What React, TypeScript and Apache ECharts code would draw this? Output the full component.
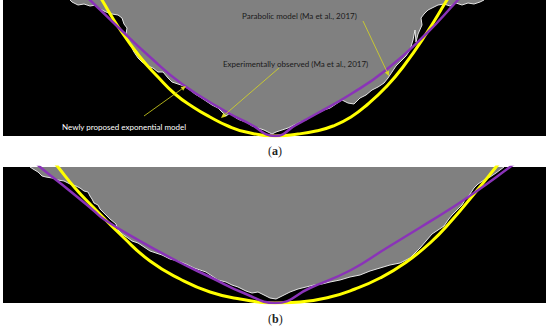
import React, { useEffect, useRef } from "react";
import * as echarts from "echarts";

// Panel (a): x in image pixels, y in pixels from panel top
const yellowA: [number, number][] = [[98,-7],[102,0],[119,28],[140,57],[158,77],[175,94],[193,107],[210,117],[228,126],[246,132],[275,136],[298,134],[316,131],[333,126],[351,117],[368,104],[386,87],[403,67],[426,34],[447,0],[451,-6]];
const purpleA: [number, number][] = [[86,-4],[90,0],[119,28],[150,57],[182,84],[225,111],[250,124],[275,136],[296,125],[316,114],[351,94],[386,70],[426,34],[458,0],[462,-4]];
const grayA: [number, number][] = [[70,0],[72,2],[78,5],[84,4],[90,6],[96,5],[100,9],[106,12],[112,14],[118,15],[122,18],[124,24],[127,28],[126,34],[128,40],[130,44],[134,52],[138,58],[142,62],[148,66],[153,68],[158,72],[163,72],[168,78],[172,82],[178,84],[184,86],[190,90],[195,94],[200,97],[206,101],[212,105],[218,108],[222,112],[226,116],[230,113],[236,118],[240,120],[246,122],[252,126],[258,128],[264,130],[268,132],[272,134],[276,132],[282,130],[288,128],[294,125],[300,122],[306,120],[312,116],[318,113],[324,110],[330,108],[336,104],[342,100],[348,103],[354,104],[360,98],[366,95],[372,90],[378,87],[384,83],[388,78],[392,72],[396,66],[402,60],[406,56],[410,50],[413,40],[415,30],[416,42],[418,34],[422,25],[421,18],[424,14],[428,10],[432,8],[438,5],[444,4],[450,6],[456,3],[462,5],[468,3],[474,4],[480,2],[484,0]];

// Panel (b)
const yellowB: [number, number][] = [[54,-5],[58,0],[75,21],[93,40],[123,70],[150,94],[180,112],[210,125],[240,132],[275,136],[300,135],[330,130],[355,122],[380,111],[405,96],[430,76],[453,52],[474,27],[496,0],[500,-5]];
const purpleB: [number, number][] = [[36,-4],[40,0],[70,24],[93,43],[105,53],[140,74],[175,93],[210,110],[246,127],[275,136],[310,121],[351,103],[385,82],[421,60],[450,42],[474,26],[510,0],[514,-3]];
const grayB: [number, number][] = [[30,0],[33,2],[38,5],[42,9],[46,10],[52,11],[58,13],[64,14],[70,17],[76,19],[80,21],[84,24],[88,25],[90,29],[92,32],[94,36],[98,38],[100,42],[104,46],[110,52],[116,57],[118,63],[122,67],[128,71],[132,74],[138,76],[144,80],[150,84],[156,86],[162,88],[170,92],[178,94],[186,97],[194,101],[200,103],[206,105],[212,109],[218,113],[226,115],[232,118],[238,120],[246,124],[252,126],[258,125],[264,128],[270,131],[276,132],[282,129],[290,125],[298,122],[306,120],[314,118],[322,117],[330,115],[340,113],[350,110],[360,108],[370,104],[380,101],[390,98],[400,96],[410,91],[420,81],[426,74],[432,67],[438,63],[444,59],[448,53],[452,48],[456,44],[462,38],[466,31],[470,27],[474,21],[478,17],[484,13],[490,10],[496,6],[500,3],[504,0]];

const panelLabels = ["a", "b"];
const annotationTexts = [
  "Parabolic model (Ma et al., 2017)",
  "Experimentally observed (Ma et al., 2017)",
  "Newly proposed exponential model",
];

const YELLOW = "#ffff00";
const PURPLE = "#8a33b8";
const GRAY = "#808080";

function arrow(x1: number, y1: number, x2: number, y2: number, color: string) {
  const ang = Math.atan2(y2 - y1, x2 - x1);
  const L = 5, W = 2.2;
  const bx = x2 - L * Math.cos(ang), by = y2 - L * Math.sin(ang);
  const px = -Math.sin(ang) * W, py = Math.cos(ang) * W;
  return [
    { type: "line", shape: { x1, y1, x2: bx, y2: by }, style: { stroke: color, lineWidth: 0.8 }, z: 100 },
    { type: "polygon", shape: { points: [[x2, y2], [bx + px, by + py], [bx - px, by - py]] }, style: { fill: color }, z: 100 },
  ];
}

export default function App() {
  const ref = useRef<HTMLDivElement>(null);
  useEffect(() => {
    if (!ref.current) return;
    const chart = echarts.init(ref.current, null, { renderer: "svg" });
    const grids = [
      { left: 3, top: 0, width: 543, height: 136 },
      { left: 3, top: 167, width: 543, height: 136 },
    ];
    const sets = [
      { y: yellowA, p: purpleA, g: grayA },
      { y: yellowB, p: purpleB, g: grayB },
    ];
    const series: any[] = [];
    sets.forEach((s, i) => {
      series.push({
        type: "line", xAxisIndex: i, yAxisIndex: i, data: s.g, showSymbol: false,
        lineStyle: { color: "#e6e6e6", width: 1 },
        areaStyle: { color: GRAY, opacity: 1, origin: 0 }, z: 2,
      });
      series.push({
        type: "line", xAxisIndex: i, yAxisIndex: i, data: s.y, showSymbol: false, smooth: 0.5,
        lineStyle: { color: YELLOW, width: 3 }, z: 3,
      });
      series.push({
        type: "line", xAxisIndex: i, yAxisIndex: i, data: s.p, showSymbol: false, smooth: 0.5,
        lineStyle: { color: PURPLE, width: 2.5 }, z: 4,
      });
    });
    const font = "Lato, 'Open Sans', sans-serif";
    const graphic: any[] = [
      ...arrow(363, 21, 389, 76, "#d8d820"),
      ...arrow(279, 68, 221, 118, "#d8d820"),
      ...arrow(144, 116, 186, 86, "#d8d820"),
      { type: "text", left: 242, top: 12, style: { text: annotationTexts[0], fill: "#1a1a1a", font: `8px ${font}` }, z: 101 },
      { type: "text", left: 223, top: 60, style: { text: annotationTexts[1], fill: "#1a1a1a", font: `8px ${font}` }, z: 101 },
      { type: "text", left: 62, top: 123, style: { text: annotationTexts[2], fill: "#ffffff", font: `8px ${font}` }, z: 101 },
      ...panelLabels.map((l, i) => ({
        type: "text", left: 268, top: i === 0 ? 145 : 313,
        style: {
          text: `(${"{b|" + l + "}"})`,
          rich: { b: { fontWeight: "bold", fontFamily: "'Liberation Serif', serif", fontSize: 12, fill: "#222" } },
          font: "12px 'Liberation Serif', serif", fill: "#222",
        },
      })),
    ];
    chart.setOption({
      animation: false,
      backgroundColor: "#ffffff",
      grid: grids.map((g) => ({ ...g, show: true, backgroundColor: "#000000", borderWidth: 0 })),
      xAxis: grids.map((_, i) => ({ type: "value", gridIndex: i, min: 3, max: 546, show: false })),
      yAxis: grids.map((_, i) => ({ type: "value", gridIndex: i, min: 0, max: 136, inverse: true, show: false })),
      series,
      graphic,
    });
    return () => chart.dispose();
  }, []);
  return (
    <div style={{ position: "fixed", left: 0, top: 0, width: 550, height: 329, background: "#fff" }}>
      <div ref={ref} style={{ width: 550, height: 329 }} />
    </div>
  );
}
